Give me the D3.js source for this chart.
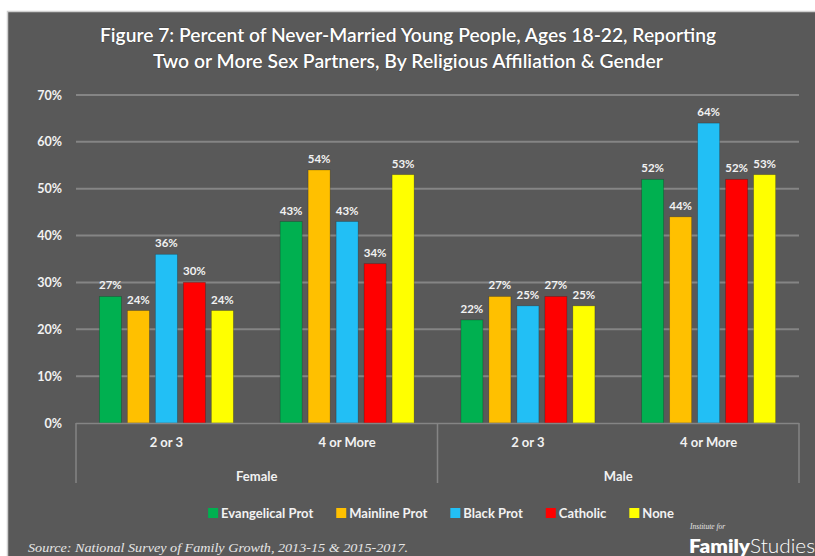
<!DOCTYPE html>
<html><head><meta charset="utf-8">
<script src="https://cdn.jsdelivr.net/npm/d3@7"></script>
<style>
html,body{margin:0;padding:0;background:#fff;}
svg{display:block;}
</style></head>
<body>
<svg id="c" width="815" height="556" font-family="Lato, 'Open Sans', sans-serif"></svg>
<script>
// ---- data ----
const genders = ["Female", "Male"];
const partnerCats = ["2 or 3", "4 or More"];
const series = ["Evangelical Prot", "Mainline Prot", "Black Prot", "Catholic", "None"];
const colors = ["#00b050", "#ffc000", "#22bff5", "#ff0000", "#ffff00"];
const femaleTwoThree = [27, 24, 36, 30, 24];
const femaleFourMore = [43, 54, 43, 34, 53];
const maleTwoThree = [22, 27, 25, 27, 25];
const maleFourMore = [52, 44, 64, 52, 53];
const yTicks = [0, 10, 20, 30, 40, 50, 60, 70];
const titleLines = ["Figure 7: Percent of Never-Married Young People, Ages 18-22, Reporting",
                    "Two or More Sex Partners, By Religious Affiliation & Gender"];
const sourceText = "Source: National Survey of Family Growth, 2013-15 & 2015-2017.";

const groups = [
  {gender: "Female", cat: "2 or 3", values: femaleTwoThree},
  {gender: "Female", cat: "4 or More", values: femaleFourMore},
  {gender: "Male", cat: "2 or 3", values: maleTwoThree},
  {gender: "Male", cat: "4 or More", values: maleFourMore}
];
groups.forEach((g, i) => g.key = i);

// ---- drawing ----
const svg = d3.select("#c");
const txt = "#f2f2f2";
const sans = "Lato, 'Open Sans', sans-serif";
const serif = "'Liberation Serif', 'DejaVu Serif', serif";

// panel
svg.append("rect").attr("x", 7.5).attr("y", 11.5).attr("width", 820).attr("height", 560)
  .attr("fill", "#595959").attr("stroke", "#cfcfcf").attr("stroke-width", 1.5);

// title
const titleW = [616, 510];
titleLines.forEach((t, i) => {
  svg.append("text").attr("x", 408).attr("y", 42 + i * 26)
    .attr("text-anchor", "middle").attr("fill", "#ffffff")
    .attr("font-size", 19).attr("font-weight", 600)
    .attr("textLength", titleW[i]).attr("lengthAdjust", "spacingAndGlyphs")
    .style("paint-order", "stroke").attr("stroke", "rgba(0,0,0,0.25)").attr("stroke-width", 1)
    .text(t);
});

const x0 = d3.scaleBand().domain(groups.map(g => g.key)).range([76, 799]).padding(0);
const x1 = d3.scaleBand().domain(series).range([0, x0.bandwidth()])
  .paddingInner(0.214).paddingOuter(0.835);
const y = d3.scaleLinear().domain([0, 70]).range([423, 95]);

// gridlines
svg.append("g").selectAll("line").data(yTicks.filter(t => t > 0)).join("line")
  .attr("x1", 76).attr("x2", 799)
  .attr("y1", d => y(d)).attr("y2", d => y(d))
  .attr("stroke", "#858585").attr("stroke-width", 2);

// y axis labels
const yAxis = d3.axisLeft(y).tickValues(yTicks).tickFormat(d => d + "%").tickSize(0).tickPadding(0);
const ya = svg.append("g").attr("transform", "translate(62,0)").call(yAxis);
ya.select(".domain").remove();
ya.selectAll("text").attr("fill", txt).attr("font-size", 12.5).attr("font-weight", 700)
  .attr("font-family", sans);

// bars
const gg = svg.append("g").selectAll("g").data(groups).join("g")
  .attr("transform", d => `translate(${x0(d.key)},0)`);
gg.selectAll("rect").data(d => d.values.map((v, i) => ({s: series[i], v, c: colors[i]}))).join("rect")
  .attr("x", d => x1(d.s)).attr("width", x1.bandwidth())
  .attr("y", d => y(d.v)).attr("height", d => y(0) - y(d.v))
  .attr("fill", d => d.c).attr("stroke", "rgba(0,0,0,0.25)").attr("stroke-width", 0.8);
gg.selectAll("text").data(d => d.values.map((v, i) => ({s: series[i], v}))).join("text")
  .attr("x", d => x1(d.s) + x1.bandwidth() / 2).attr("y", d => y(d.v) - 7)
  .attr("text-anchor", "middle").attr("fill", txt)
  .attr("font-size", 11.5).attr("font-weight", 700)
  .text(d => d.v + "%");

// x axis (hierarchical)
svg.append("line").attr("x1", 76).attr("x2", 799).attr("y1", 423.5).attr("y2", 423.5)
  .attr("stroke", "#858585").attr("stroke-width", 1.5);
const sepX = [76, (76 + 799) / 2, 799];
svg.append("g").selectAll("line").data(sepX).join("line")
  .attr("x1", d => d).attr("x2", d => d).attr("y1", 423).attr("y2", 483)
  .attr("stroke", "#858585").attr("stroke-width", 1.5);
const xAxis = d3.axisBottom(x0).tickFormat(k => groups[k].cat).tickSize(0).tickPadding(0);
const xa = svg.append("g").attr("transform", "translate(0,438)").call(xAxis);
xa.select(".domain").remove();
xa.selectAll("text").attr("fill", txt).attr("font-size", 13).attr("font-weight", 700)
  .attr("font-family", sans);
const gx = d3.scaleBand().domain(genders).range([76, 799]);
svg.append("g").selectAll("text").data(genders).join("text")
  .attr("x", d => gx(d) + gx.bandwidth() / 2).attr("y", 481)
  .attr("text-anchor", "middle").attr("fill", txt).attr("font-size", 13).attr("font-weight", 700)
  .text(d => d);

// legend
const lg = svg.append("g");
let lx = 0;
series.forEach((s, i) => {
  const it = lg.append("g");
  it.append("rect").attr("x", lx).attr("y", 508).attr("width", 10).attr("height", 10).attr("fill", colors[i]);
  const t = it.append("text").attr("x", lx + 13).attr("y", 517.5).attr("fill", txt)
    .attr("font-size", 13).attr("font-weight", 700).text(s);
  lx += 13 + t.node().getComputedTextLength() + 23;
});
const lw = lx - 23;
lg.attr("transform", `translate(${441 - lw / 2},0)`);

// source
svg.append("text").attr("x", 28).attr("y", 552).attr("fill", "#e6e6e6")
  .attr("font-family", serif).attr("font-style", "italic")
  .attr("font-size", 13.5).attr("textLength", 380).attr("lengthAdjust", "spacingAndGlyphs")
  .text(sourceText);

// logo
svg.append("text").attr("x", 690).attr("y", 529).attr("fill", "#e6e6e6")
  .attr("font-family", serif).attr("font-style", "italic")
  .attr("font-size", 7.5).text("Institute for");
const logo = svg.append("text").attr("x", 689).attr("y", 553).attr("fill", "#ffffff")
  .attr("font-size", 19).attr("textLength", 126).attr("lengthAdjust", "spacingAndGlyphs");
logo.append("tspan").attr("font-weight", 800).text("Family");
logo.append("tspan").attr("font-weight", 300).text("Studies");
</script>
</body></html>
